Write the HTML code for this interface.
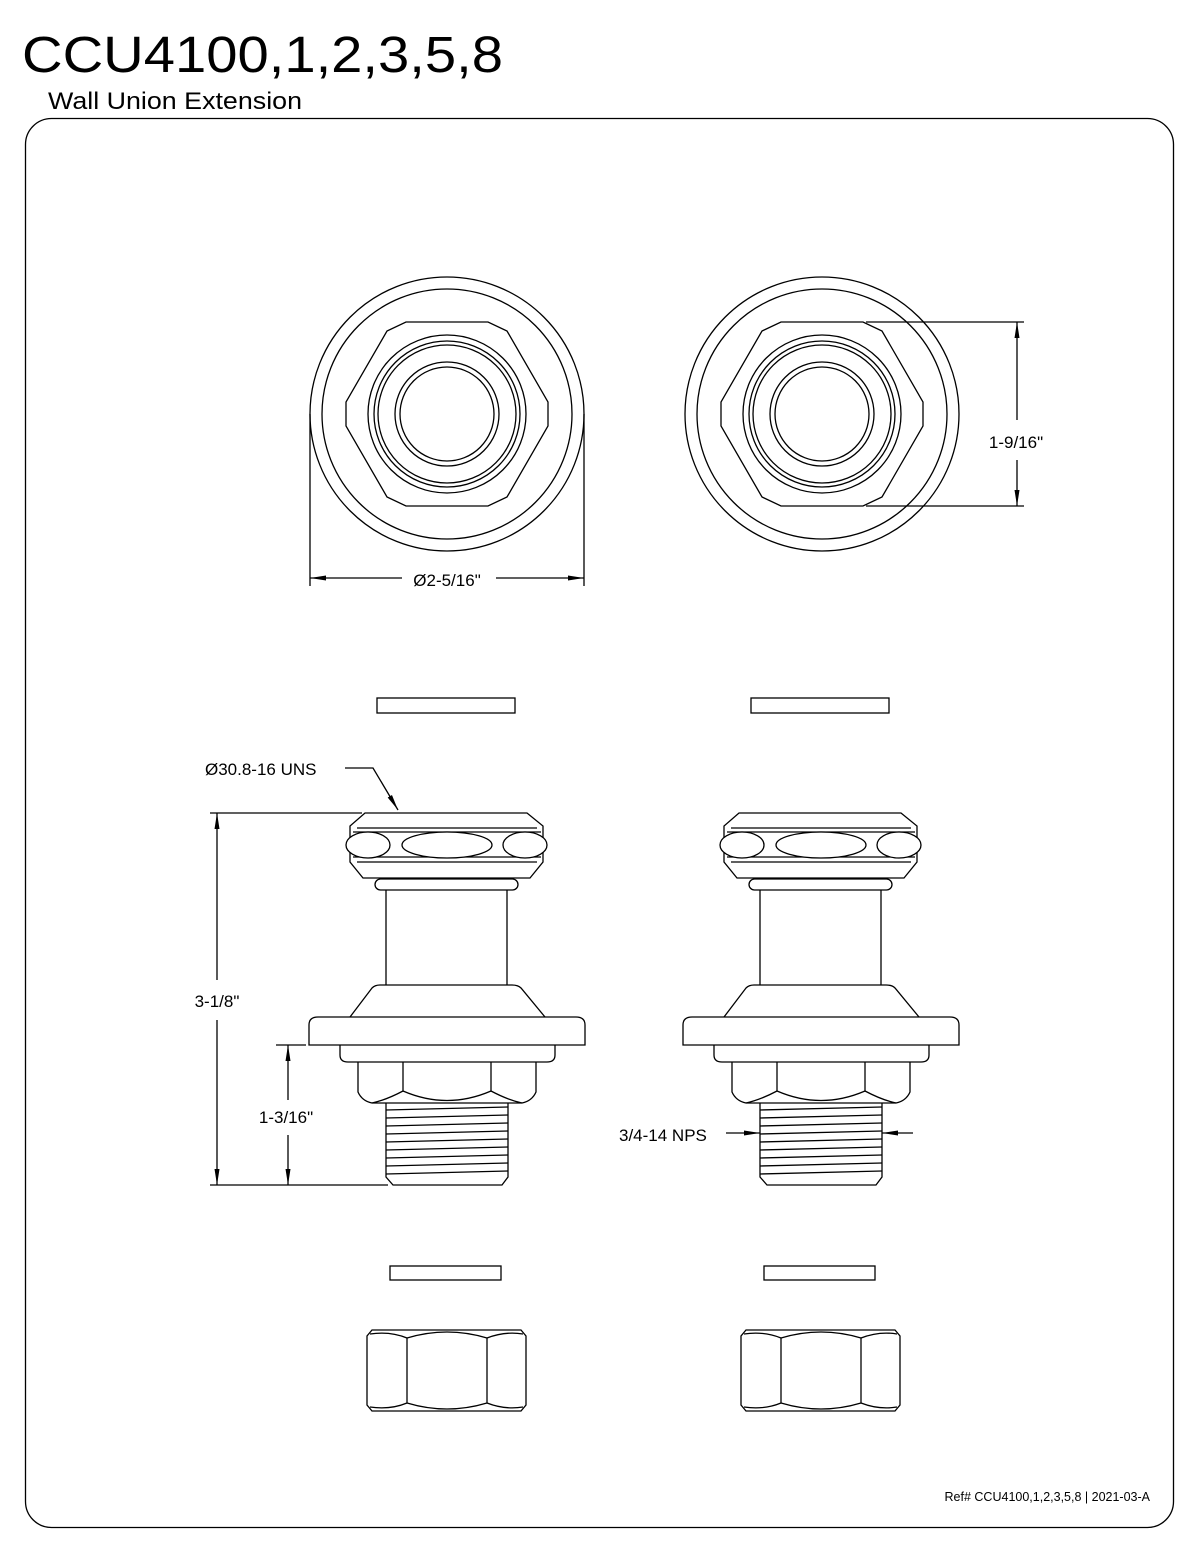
<!DOCTYPE html>
<html><head><meta charset="utf-8"><style>
html,body{margin:0;padding:0;background:#fff;}
svg{display:block;}
text{font-family:"Liberation Sans",sans-serif;fill:#000;}
</style></head><body>
<svg width="1200" height="1553" viewBox="0 0 1200 1553" xmlns="http://www.w3.org/2000/svg">
<defs>
<marker id="ar" markerWidth="16" markerHeight="8" refX="16" refY="4" orient="auto" markerUnits="userSpaceOnUse">
<path d="M0,1.5 L16,4 L0,6.5 Z" fill="#000"/></marker>
<g id="top">
<circle cx="0" cy="0" r="137"/>
<circle cx="0" cy="0" r="125"/>
<polygon points="-41,-92 41,-92 60,-83 101,-12 101,12 60,83 41,92 -41,92 -60,83 -101,12 -101,-12 -60,-83"/>
<circle r="79"/><circle r="73"/><circle r="69"/><circle r="52"/><circle r="47"/>
</g>
<g id="side">
<polygon points="365,813 527,813 543,826 543,862 530,878 363,878 350,862 350,826"/>
<line x1="357" y1="828" x2="537" y2="828"/><line x1="353" y1="832" x2="541" y2="832"/>
<line x1="353" y1="857" x2="541" y2="857"/><line x1="357" y1="862" x2="537" y2="862"/>
<ellipse cx="368" cy="845" rx="22" ry="13" fill="#fff"/>
<ellipse cx="447" cy="845" rx="45" ry="13" fill="#fff"/>
<ellipse cx="525" cy="845" rx="22" ry="13" fill="#fff"/>
<rect x="375" y="879" width="143" height="11" rx="5.5"/>
<line x1="386" y1="890" x2="386" y2="985"/><line x1="507" y1="890" x2="507" y2="985"/>
<path d="M350,1017 L372,988 Q375,985 380,985 L512,985 Q518,985 521,988 L545,1017"/>
<path d="M309,1045 L309,1025 Q309,1017 318,1017 L576,1017 Q585,1017 585,1025 L585,1045 Z"/>
<path d="M340,1045 L340,1055 Q340,1062 348,1062 L547,1062 Q555,1062 555,1055 L555,1045"/>
<path d="M358,1062 L358,1092 Q362,1101 372,1103 L522,1103 Q532,1101 536,1092 L536,1062"/>
<line x1="403" y1="1062" x2="403" y2="1091"/><line x1="491" y1="1062" x2="491" y2="1091"/>
<path d="M372,1103 Q386,1100 403,1091 Q447,1110 491,1091 Q508,1100 522,1103"/>
<path d="M386,1103 L386,1177 L393,1185 L502,1185 L508,1177 L508,1103"/>
<g>
<line x1="386" y1="1110" x2="508" y2="1107"/><line x1="386" y1="1118" x2="508" y2="1115"/>
<line x1="386" y1="1126" x2="508" y2="1123"/><line x1="386" y1="1134" x2="508" y2="1131"/>
<line x1="386" y1="1142" x2="508" y2="1139"/><line x1="386" y1="1150" x2="508" y2="1147"/>
<line x1="386" y1="1158" x2="508" y2="1155"/><line x1="386" y1="1166" x2="508" y2="1163"/>
<line x1="386" y1="1174" x2="508" y2="1171"/>
</g>
<rect x="377" y="698" width="138" height="15"/>
<rect x="390" y="1266" width="111" height="14"/>
<polygon points="372,1330 521,1330 526,1336 526,1405 521,1411 372,1411 367,1405 367,1336"/>
<line x1="407" y1="1338" x2="407" y2="1403"/><line x1="487" y1="1338" x2="487" y2="1403"/>
<path d="M370,1334 Q390,1331 407,1338 Q447,1326 487,1338 Q505,1331 523,1334"/>
<path d="M370,1407 Q390,1410 407,1403 Q447,1415 487,1403 Q505,1410 523,1407"/>
</g>
</defs>
<rect x="25.5" y="118.5" width="1148" height="1409" rx="26" fill="none" stroke="#000" stroke-width="1.3"/>
<text x="22" y="72" font-size="51" textLength="481" lengthAdjust="spacingAndGlyphs">CCU4100,1,2,3,5,8</text>
<text x="48" y="109" font-size="24" textLength="254" lengthAdjust="spacingAndGlyphs">Wall Union Extension</text>
<text x="1150" y="1501" font-size="12.5" text-anchor="end">Ref# CCU4100,1,2,3,5,8 | 2021-03-A</text>
<g fill="none" stroke="#000" stroke-width="1.3">
<use href="#top" x="447" y="414"/>
<use href="#top" x="822" y="414"/>
<use href="#side"/>
<use href="#side" x="374"/>
<line x1="310" y1="414" x2="310" y2="586"/><line x1="584" y1="414" x2="584" y2="586"/>
<line x1="402" y1="578" x2="310" y2="578" marker-end="url(#ar)"/>
<line x1="496" y1="578" x2="584" y2="578" marker-end="url(#ar)"/>
<line x1="866" y1="322" x2="1024" y2="322"/><line x1="866" y1="506" x2="1024" y2="506"/>
<line x1="1017" y1="420" x2="1017" y2="322" marker-end="url(#ar)"/>
<line x1="1017" y1="460" x2="1017" y2="506" marker-end="url(#ar)"/>
<line x1="210" y1="813" x2="362" y2="813"/><line x1="210" y1="1185" x2="388" y2="1185"/>
<line x1="217" y1="980" x2="217" y2="813" marker-end="url(#ar)"/>
<line x1="217" y1="1020" x2="217" y2="1185" marker-end="url(#ar)"/>
<line x1="276" y1="1045" x2="306" y2="1045"/>
<line x1="288" y1="1100" x2="288" y2="1045" marker-end="url(#ar)"/>
<line x1="288" y1="1135" x2="288" y2="1185" marker-end="url(#ar)"/>
<polyline points="345,768 373,768 398,810" marker-end="url(#ar)"/>
<line x1="726" y1="1133" x2="760" y2="1133" marker-end="url(#ar)"/>
<line x1="913" y1="1133" x2="882" y2="1133" marker-end="url(#ar)"/>
</g>
<text x="447" y="586" font-size="17" text-anchor="middle">Ø2-5/16"</text>
<text x="1016" y="448" font-size="17" text-anchor="middle">1-9/16"</text>
<text x="217" y="1007" font-size="17" text-anchor="middle">3-1/8"</text>
<text x="286" y="1123" font-size="17" text-anchor="middle">1-3/16"</text>
<text x="205" y="775" font-size="17">Ø30.8-16 UNS</text>
<text x="619" y="1141" font-size="17">3/4-14 NPS</text>
</svg>
</body></html>
